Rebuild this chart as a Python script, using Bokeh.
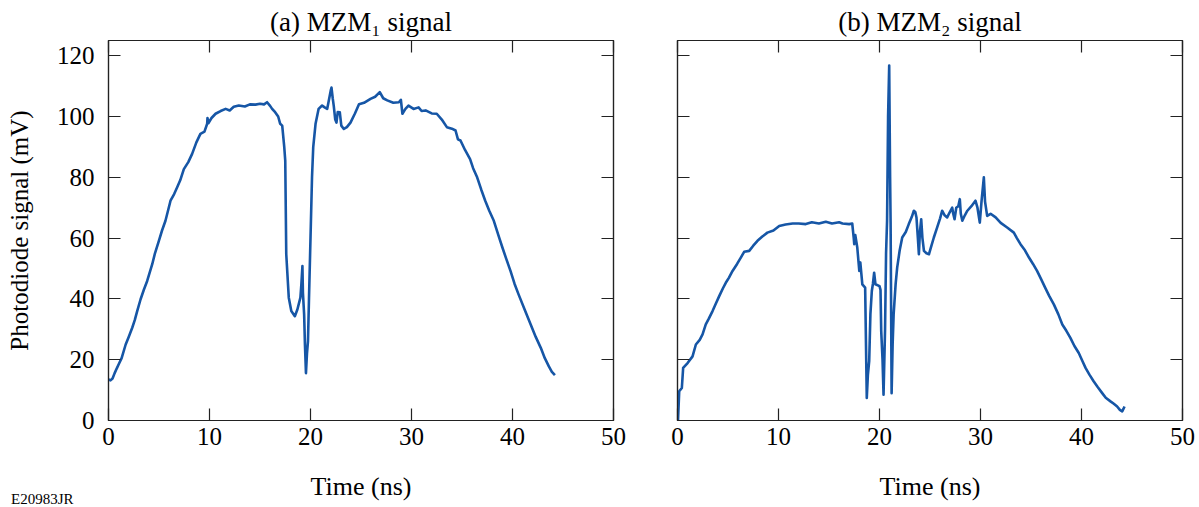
from bokeh.plotting import figure
from bokeh.layouts import row, column
from bokeh.models import LinearAxis, FixedTicker, Range1d, Div
from bokeh.embed import file_html
from bokeh.resources import INLINE

# ---- data ----
t1 = [0.0, 0.2, 0.4, 0.6, 0.8, 1.0, 1.3, 1.7, 2.0, 2.35, 2.6, 2.84, 3.17, 3.5, 3.83, 4.33, 4.6, 4.98,
      5.3, 5.64, 6.14, 6.5, 6.8, 7.1, 7.46, 7.9, 8.28, 8.7, 9.1, 9.5, 9.77, 9.8, 9.9, 10.2, 10.6, 11.1,
      11.6, 12.0, 12.4, 12.9, 13.5, 14.0, 14.55, 15.0, 15.4, 15.7, 16.0, 16.2, 16.5, 16.8, 17.0, 17.2,
      17.4, 17.5, 17.6, 17.85, 18.1, 18.45, 18.7, 19.0, 19.1, 19.2, 19.25, 19.37, 19.45, 19.55, 19.65,
      19.75, 19.85, 20.0, 20.15, 20.27, 20.5, 20.8, 21.15, 21.4, 21.65, 21.8, 22.0, 22.08, 22.2, 22.3,
      22.45, 22.57, 22.7, 22.9, 23.05, 23.3, 23.6, 23.96, 24.4, 24.8, 25.3, 25.94, 26.4, 26.86, 27.2,
      27.6, 28.2, 28.75, 28.95, 29.1, 29.4, 29.7, 30.2, 30.7, 31.0, 31.4, 32.0, 32.5, 33.0, 33.5, 34.0,
      34.36, 34.6, 34.85, 35.3, 35.8, 36.1, 36.5, 36.9, 37.3, 37.7, 38.15, 38.6, 39.0, 39.4, 39.8, 40.2,
      40.6, 41.2, 41.8, 42.3, 42.8, 43.2, 43.6, 43.9, 44.2]
v1 = [13.5, 13.2, 13.8, 15.5, 17.0, 18.4, 20.5, 25.0, 27.5, 30.5, 33.0, 36.0, 39.8, 43.0, 45.9, 51.4,
      55.0, 59.0, 62.5, 65.7, 72.3, 74.5, 76.7, 79.0, 82.7, 85.0, 87.7, 91.5, 94.3, 95.0, 97.6, 99.5,
      97.8, 99.5, 100.9, 101.8, 102.5, 102.0, 103.2, 103.6, 103.3, 104.0, 103.9, 104.2, 104.0, 104.7,
      103.5, 102.5, 101.4, 100.0, 97.6, 97.0, 90.0, 85.5, 54.7, 40.4, 36.0, 34.3, 36.5, 40.4, 45.0,
      50.8, 42.0, 34.9, 25.0, 15.6, 22.0, 26.0, 40.0, 60.0, 80.0, 89.9, 97.6, 102.5, 103.6, 103.0,
      102.5, 105.0, 108.5, 109.5, 106.0, 103.6, 99.0, 98.0, 101.5, 101.4, 97.0, 95.9, 96.5, 98.0,
      101.0, 104.0, 104.5, 105.8, 106.5, 108.0, 106.0, 105.3, 104.5, 104.7, 105.5, 100.9, 102.5,
      103.6, 102.5, 103.0, 101.8, 102.0, 101.0, 100.9, 99.0, 96.5, 96.0, 95.4, 92.5, 92.1, 89.0,
      86.0, 83.0, 80.0, 76.0, 72.3, 69.0, 65.7, 61.0, 56.9, 53.0, 49.2, 45.0, 41.5, 36.5, 31.6, 27.5,
      23.9, 20.5, 17.8, 16.0, 14.9]

t2 = [0.05, 0.17, 0.43, 0.56, 1.0, 1.49, 1.82, 2.2, 2.48, 2.8, 3.1, 3.47, 3.8, 4.13, 4.5, 4.78, 5.1,
      5.45, 5.9, 6.27, 6.6, 7.1, 7.5, 7.92, 8.4, 8.9, 9.5, 10.07, 10.7, 11.4, 12.0, 12.7, 13.3, 14.0,
      14.68, 15.3, 16.0, 16.34, 17.0, 17.3, 17.45, 17.5, 17.6, 17.8, 18.0, 18.1, 18.3, 18.58, 18.74,
      18.85, 18.98, 19.1, 19.24, 19.35, 19.47, 19.6, 20.0, 20.1, 20.17, 20.3, 20.4, 20.55, 20.65,
      20.75, 20.85, 20.96, 21.05, 21.1, 21.2, 21.3, 21.4, 21.6, 21.75, 22.0, 22.25, 22.6, 22.9, 23.2,
      23.4, 23.55, 23.66, 23.8, 23.9, 24.0, 24.13, 24.25, 24.4, 24.65, 24.9, 25.1, 25.38, 25.71, 26.0,
      26.2, 26.45, 26.7, 26.95, 27.2, 27.3, 27.43, 27.6, 27.8, 27.95, 28.05, 28.2, 28.45, 28.7, 29.1,
      29.5, 29.7, 29.93, 30.1, 30.33, 30.45, 30.66, 31.0, 31.5, 32.0, 32.64, 33.3, 33.6, 33.96, 34.4,
      34.8, 35.2, 35.6, 36.0, 36.4, 36.8, 37.26, 37.7, 38.1, 38.5, 38.9, 39.3, 39.73, 40.1, 40.4,
      40.8, 41.2, 41.6, 42.05, 42.4, 42.87, 43.2, 43.53, 43.8, 44.03, 44.15, 44.26]
v2 = [0.0, 9.6, 10.7, 17.3, 18.9, 21.1, 25.0, 26.5, 28.3, 31.6, 33.5, 36.0, 38.5, 40.9, 43.5, 45.3,
      47.0, 49.2, 51.5, 53.6, 55.5, 55.8, 57.5, 59.1, 60.5, 61.8, 62.5, 64.0, 64.5, 64.8, 64.8, 64.6,
      65.2, 64.8, 65.4, 64.8, 65.2, 64.8, 64.6, 64.8, 60.0, 58.0, 61.0, 56.9, 49.2, 52.0, 44.8, 43.7,
      7.4, 15.0, 19.5, 35.0, 42.6, 45.0, 48.6, 44.8, 44.2, 43.0, 29.4, 20.0, 8.5, 30.0, 55.0, 65.7,
      100.0, 116.8, 80.0, 65.0, 9.0, 25.0, 34.9, 45.0, 50.3, 56.0, 60.2, 62.0, 64.6, 67.0, 69.0, 68.5,
      66.8, 60.0, 54.7, 62.0, 66.2, 60.0, 55.8, 55.0, 54.7, 57.0, 60.2, 63.5, 66.5, 69.0, 67.5, 66.8,
      68.5, 70.0, 68.0, 66.2, 70.0, 70.5, 72.8, 68.0, 65.7, 67.5, 69.0, 70.5, 72.3, 70.0, 65.1, 72.0,
      80.0, 72.0, 67.3, 68.0, 66.8, 65.0, 63.5, 61.8, 60.0, 58.0, 56.0, 53.6, 51.5, 49.2, 46.5, 43.7,
      41.0, 38.2, 35.0, 31.6, 29.5, 27.2, 24.5, 22.2, 19.5, 17.3, 15.0, 12.9, 11.0, 9.0, 7.5, 6.3,
      5.5, 4.6, 3.5, 3.0, 3.8, 4.6]

x_ticks = [0, 10, 20, 30, 40, 50]
y_ticks = [0, 20, 40, 60, 80, 100, 120]
titles = ["(a) MZM\u2081 signal", "(b) MZM\u2082 signal"]
x_label = "Time (ns)"
y_label = "Photodiode signal (mV)"
code_label = "E20983JR"

FONT = "Liberation Serif"
LINE = "#1656a6"
DARK = "#222222"
H = 505
XR = (0, 50)
YR = (0, 125)
FRAME_W = 505
FRAME_H = 380
TOP = 40


def style_axis(ax, ticks, labels):
    ax.ticker = FixedTicker(ticks=ticks)
    ax.major_tick_in = 12
    ax.major_tick_out = 0
    ax.minor_tick_line_color = None
    ax.axis_line_color = DARK
    ax.axis_line_width = 1.2
    ax.major_tick_line_color = DARK
    ax.major_tick_line_width = 1.2
    ax.major_label_text_font = FONT
    if labels:
        ax.major_label_text_font_size = "25px"
        ax.major_label_text_color = "black"
    else:
        ax.major_label_text_font_size = "1px"
        ax.major_label_text_color = None
        ax.major_label_standoff = 0


def make_panel(t, v, title, left_border, right_border, ylabels):
    p = figure(width=left_border + FRAME_W + right_border, height=H,
               x_range=Range1d(*XR), y_range=Range1d(*YR),
               output_backend="svg", toolbar_location=None,
               min_border_left=left_border, min_border_right=right_border,
               min_border_top=TOP, min_border_bottom=H - TOP - FRAME_H)
    top = LinearAxis()
    right = LinearAxis()
    p.add_layout(top, "above")
    p.add_layout(right, "right")
    style_axis(p.below[0], x_ticks, True)
    style_axis(top, x_ticks, False)
    style_axis(p.left[0], y_ticks, ylabels)
    style_axis(right, y_ticks, False)

    xa = p.below[0]
    xa.major_label_standoff = 7
    xa.axis_label = x_label
    xa.axis_label_text_font = FONT
    xa.axis_label_text_font_size = "26px"
    xa.axis_label_text_font_style = "normal"
    xa.axis_label_text_color = "black"
    xa.axis_label_standoff = 24

    if ylabels:
        ya = p.left[0]
        ya.major_label_standoff = 14
        ya.axis_label = y_label
        ya.axis_label_text_font = FONT
        ya.axis_label_text_font_size = "25px"
        ya.axis_label_text_font_style = "normal"
        ya.axis_label_text_color = "black"
        ya.axis_label_standoff = 21

    p.title.text = title
    p.title.text_font = FONT
    p.title.text_font_size = "27px"
    p.title.text_font_style = "normal"
    p.title.text_color = "black"
    p.title.align = "center"
    p.title.standoff = 7

    p.xgrid.grid_line_color = None
    p.ygrid.grid_line_color = None
    p.outline_line_color = DARK
    p.outline_line_width = 1.2
    p.background_fill_color = "white"
    p.border_fill_color = "white"

    p.line(t, v, line_color=LINE, line_width=2.6, line_join="round")
    return p


p1 = make_panel(t1, v1, titles[0], 108, 30, True)
p2 = make_panel(t2, v2, titles[1], 34, 14, False)

code = Div(text=code_label, width=120, height=15, margin=(-13, 0, 0, 11),
           styles={"font-family": "Liberation Serif", "font-size": "15px",
                   "line-height": "15px", "color": "black"})

layout = column(row(p1, p2), code)
open("out.html", "w").write(file_html(layout, INLINE))
